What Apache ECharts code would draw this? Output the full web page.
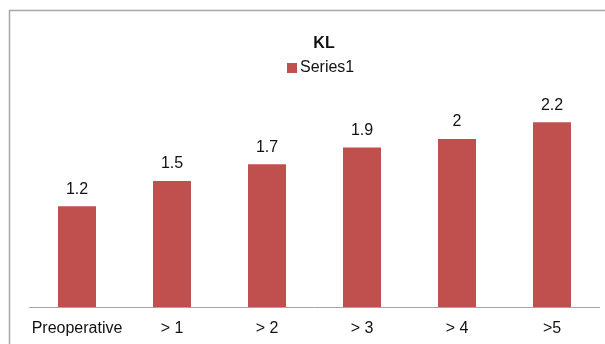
<!DOCTYPE html>
<html>
<head>
<meta charset="utf-8">
<script src="https://cdn.jsdelivr.net/npm/echarts@6/dist/echarts.min.js"></script>
<style>
  html, body { margin: 0; padding: 0; background: #fff; }
  #main { width: 605px; height: 344px; }
</style>
</head>
<body>
<div id="main"></div>
<script>
const categories = ['Preoperative', '> 1', '> 2', '> 3', '> 4', '>5'];
const series1 = [1.2, 1.5, 1.7, 1.9, 2, 2.2];

const chart = echarts.init(document.getElementById('main'));
const font = '"Liberation Sans", Arial, sans-serif';

let option = {
  animation: false,
  color: ['#C0504D'],
  // outer chart frame (runs off the right / bottom edge)
  graphic: [
    {
      type: 'rect',
      shape: { x: 9.5, y: 10.5, width: 700, height: 400 },
      style: { fill: 'none', stroke: '#a6a6a6', lineWidth: 1.5 },
      silent: true,
    },
  ],
  title: {
    text: 'KL',
    left: 319,
    top: 31,
    textAlign: 'center',
    textStyle: { fontFamily: font, fontSize: 16, fontWeight: 'bold', color: '#111' },
  },
  legend: {
    data: ['Series1'],
    left: 282,
    top: 55,
    icon: 'rect',
    itemWidth: 10,
    itemHeight: 10,
    itemGap: 4,
    textStyle: { fontFamily: font, fontSize: 16, color: '#111', padding: [0, 0, 0, -2] },
  },
  grid: {
    left: 29.5,
    right: 5.5,
    top: 97,
    bottom: 37,
    containLabel: false,
  },
  xAxis: {
    type: 'category',
    data: categories,
    axisLine: { lineStyle: { color: '#a6a6a6', width: 1 } },
    axisTick: { show: false },
    axisLabel: { fontFamily: font, fontSize: 16, color: '#111', margin: 14, interval: 0 },
  },
  yAxis: {
    type: 'value',
    min: 0,
    max: 2.5,
    interval: 0.5,
    show: false,
    splitLine: { show: false },
  },
  series: [
    {
      name: 'Series1',
      type: 'bar',
      data: series1,
      barWidth: '40%',
      label: {
        show: true,
        position: 'top',
        distance: 9,
        fontFamily: font,
        fontSize: 16,
        color: '#111',
      },
    },
  ],
};
chart.setOption(option);
</script>
</body>
</html>
